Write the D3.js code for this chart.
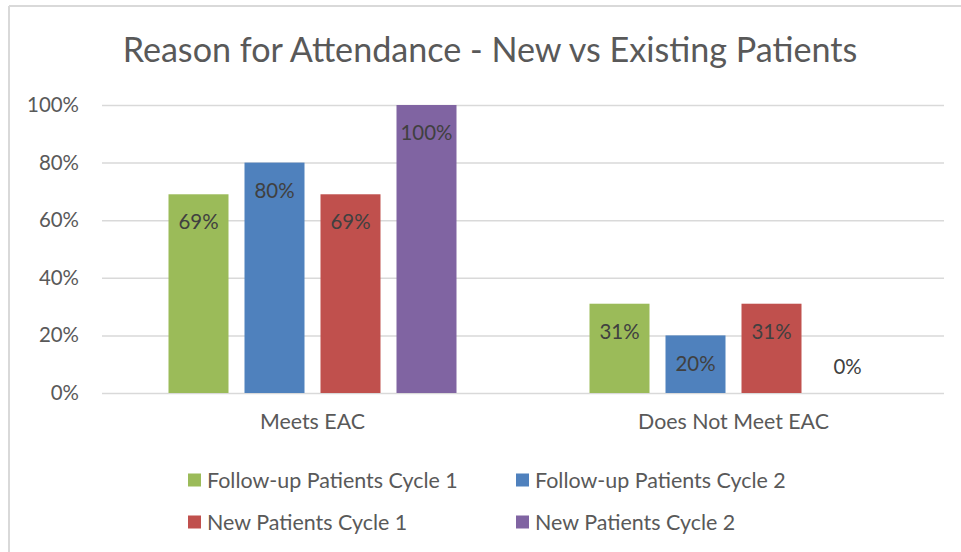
<!DOCTYPE html>
<html>
<head>
<meta charset="utf-8">
<script src="https://cdn.jsdelivr.net/npm/d3@7"></script>
<style>
  html, body { margin: 0; padding: 0; background: #fff; }
  svg { display: block; font-family: Lato, "Open Sans", sans-serif; }
</style>
</head>
<body>
<div id="chart"></div>
<script>
const width = 961, height = 552;

const title = "Reason for Attendance - New vs Existing Patients";
const categories = ["Meets EAC", "Does Not Meet EAC"];
const seriesNames = ["Follow-up Patients Cycle 1", "Follow-up Patients Cycle 2", "New Patients Cycle 1", "New Patients Cycle 2"];
const followUpCycle1 = [0.69, 0.31];
const followUpCycle2 = [0.80, 0.20];
const newCycle1 = [0.69, 0.31];
const newCycle2 = [1.00, 0.00];
const yTicks = [0, 0.2, 0.4, 0.6, 0.8, 1.0];
const colors = ["#9bbb59", "#4f81bd", "#c0504d", "#8064a2"];

const seriesValues = [followUpCycle1, followUpCycle2, newCycle1, newCycle2];

const margin = {top: 105, left: 102, right: 17, bottom: 159};
const plotW = width - margin.left - margin.right;
const plotH = height - margin.top - margin.bottom;

const svg = d3.select("#chart").append("svg")
  .attr("width", width)
  .attr("height", height);

// chart frame (only top & left edges visible in the crop)
svg.append("line").attr("x1", 9).attr("x2", width).attr("y1", 6).attr("y2", 6)
  .attr("stroke", "#d9d9d9").attr("stroke-width", 2);
svg.append("line").attr("x1", 9).attr("x2", 9).attr("y1", 6).attr("y2", height)
  .attr("stroke", "#d9d9d9").attr("stroke-width", 2);

// font size that makes a string come out at a measured width
function fitSize(str, target) {
  const t = svg.append("text").attr("font-size", 20).text(str);
  const w = t.node().getComputedTextLength();
  t.remove();
  return 20 * target / w;
}

svg.append("text")
  .attr("x", 490).attr("y", 62)
  .attr("text-anchor", "middle")
  .attr("font-size", fitSize(title, 735))
  .attr("fill", "#595959")
  .text(title);

const numFs = fitSize("100%", 52);
const catFs = fitSize("Does Not Meet EAC", 191);
const legFs = fitSize(seriesNames[0], 251);

const g = svg.append("g").attr("transform", `translate(${margin.left},${margin.top})`);

const y = d3.scaleLinear().domain([0, 1]).range([plotH, 0]);
const x0 = d3.scaleBand().domain(categories).range([0, plotW]);
const groupW = 76 * 4 - 16;
const x1 = d3.scaleBand().domain(seriesNames).range([0, groupW]).paddingInner(16 / 76).paddingOuter(0);

// gridlines
const yAxis = d3.axisLeft(y).tickValues(yTicks).tickSize(-plotW).tickFormat(d3.format(".0%"));
const ya = g.append("g").call(yAxis);
ya.select(".domain").remove();
ya.selectAll(".tick line").attr("stroke", "#d9d9d9").attr("stroke-width", 1.5);
ya.selectAll(".tick text")
  .attr("x", -23)
  .attr("font-size", numFs)
  .attr("font-family", "Lato, 'Open Sans', sans-serif")
  .attr("fill", "#595959");

// bars
const groups = g.selectAll(".grp").data(categories).join("g")
  .attr("class", "grp")
  .attr("transform", d => `translate(${x0(d) + x0.bandwidth() / 2 - groupW / 2},0)`);

groups.each(function(cat, ci) {
  const gg = d3.select(this);
  seriesNames.forEach((s, si) => {
    const v = seriesValues[si][ci];
    gg.append("rect")
      .attr("x", x1(s))
      .attr("y", y(v))
      .attr("width", x1.bandwidth())
      .attr("height", plotH - y(v))
      .attr("fill", colors[si]);
    gg.append("text")
      .attr("x", x1(s) + x1.bandwidth() / 2)
      .attr("y", v > 0 ? y(v) + 28 : y(v) - 26)
      .attr("dy", "0.35em")
      .attr("text-anchor", "middle")
      .attr("font-size", numFs)
      .attr("fill", "#404040")
      .text(d3.format(".0%")(v));
  });
});

// category labels
g.selectAll(".cat").data(categories).join("text")
  .attr("class", "cat")
  .attr("x", d => x0(d) + x0.bandwidth() / 2)
  .attr("y", plotH + 29)
  .attr("dy", "0.35em")
  .attr("text-anchor", "middle")
  .attr("font-size", catFs)
  .attr("fill", "#595959")
  .text(d => d);

// legend
const legendPos = [[188, 480], [516, 480], [188, 522], [516, 522]];
seriesNames.forEach((s, i) => {
  const [lx, ly] = legendPos[i];
  svg.append("rect")
    .attr("x", lx).attr("y", ly - 6.5)
    .attr("width", 13).attr("height", 13)
    .attr("fill", colors[i]);
  svg.append("text")
    .attr("x", lx + 19).attr("y", ly)
    .attr("dy", "0.35em")
    .attr("font-size", legFs)
    .attr("fill", "#595959")
    .text(s);
});
</script>
</body>
</html>
